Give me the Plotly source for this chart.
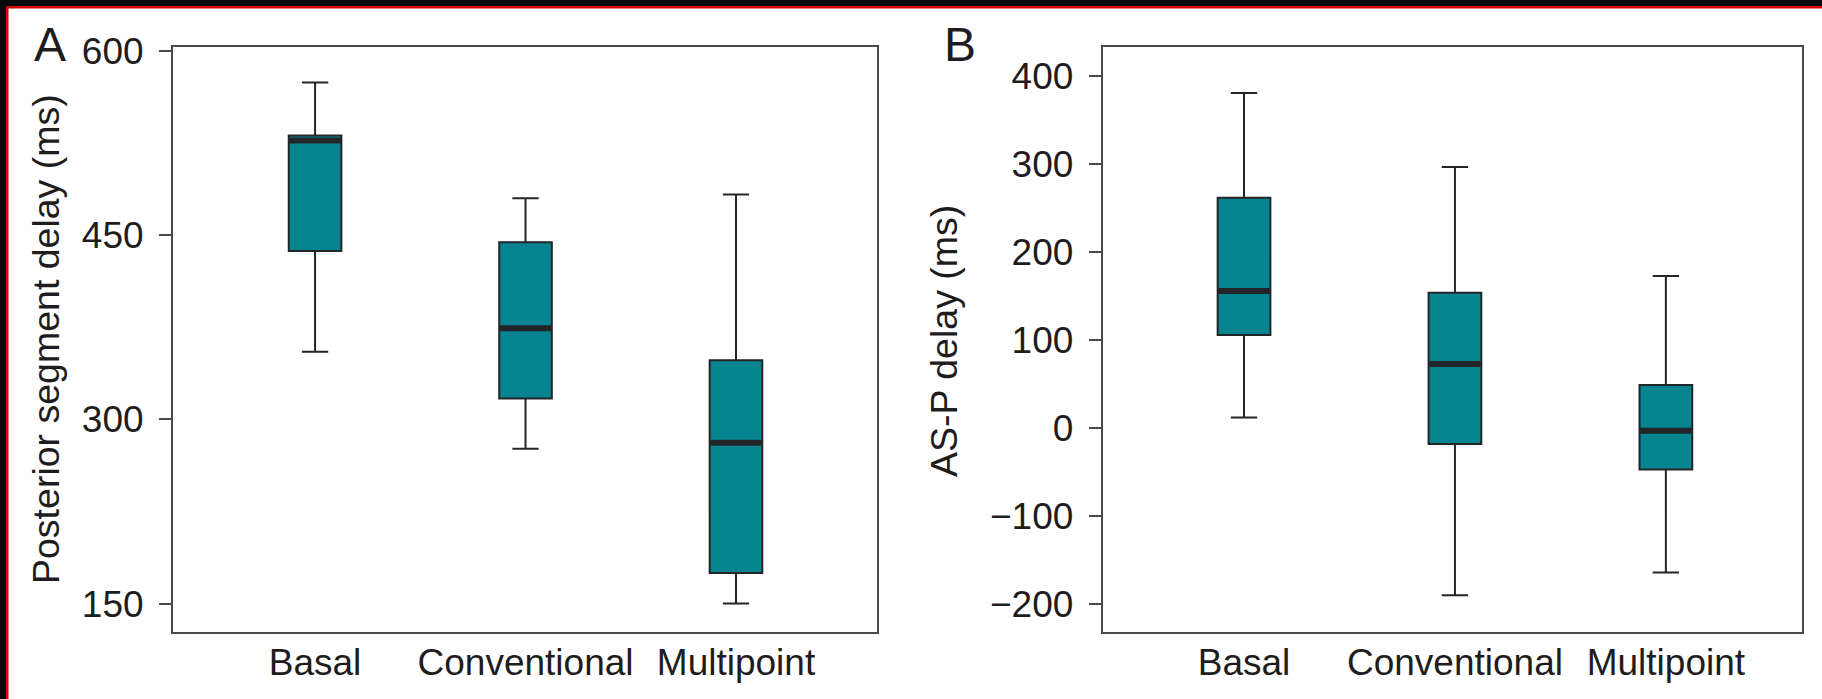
import plotly.graph_objects as go

# ---- data ----
categories = ["Basal", "Conventional", "Multipoint"]

# Panel A: Posterior segment delay (ms)
a_lower = [355, 276, 150]
a_q1 = [437, 317, 175]
a_median = [527, 374, 281]
a_q3 = [531, 444, 348]
a_upper = [574, 480, 483]

# Panel B: AS-P delay (ms)
b_lower = [12, -190, -164]
b_q1 = [106, -18, -47]
b_median = [156, 73, -3]
b_q3 = [262, 154, 49]
b_upper = [381, 297, 173]

a_ticks = [150, 300, 450, 600]
b_ticks = [-200, -100, 0, 100, 200, 300, 400]

# ---- style ----
W, H = 1822, 699
TEAL = "#06848f"
DARK = "#222629"
AXC = "#4a4a4a"
TXT = "#1f1c1d"
FONT = "Liberation Sans, Arial, Helvetica, sans-serif"
BOX_W = 0.25


def px_x(p):
    return p / W


def px_y(p):
    return (H - p) / H


fig = go.Figure()

for (xa, ya, lo, q1, md, q3, up) in [
    ("x", "y", a_lower, a_q1, a_median, a_q3, a_upper),
    ("x2", "y2", b_lower, b_q1, b_median, b_q3, b_upper),
]:
    fig.add_trace(go.Box(
        x=categories, q1=q1, median=md, q3=q3, lowerfence=lo, upperfence=up,
        xaxis=xa, yaxis=ya, width=BOX_W, whiskerwidth=0.5,
        fillcolor=TEAL, line=dict(color=DARK, width=2),
        boxpoints=False, showlegend=False, hoverinfo="skip",
    ))
    # thick median bar
    fig.add_trace(go.Scatter(
        x=categories, y=md, xaxis=xa, yaxis=ya, mode="markers",
        marker=dict(symbol="line-ew", size=37, color=DARK,
                    line=dict(color=DARK, width=6)),
        showlegend=False, hoverinfo="skip",
    ))

yb0, yb1 = px_y(631.5), px_y(46.5)

common_x = dict(
    type="category", showline=True, mirror=True, linecolor=AXC, linewidth=2,
    ticks="", showgrid=False, zeroline=False, automargin=False,
    ticklabelstandoff=-3,
    tickfont=dict(family=FONT, size=37, color=TXT),
)
common_y = dict(
    showline=True, mirror=True, linecolor=AXC, linewidth=2,
    ticks="outside", ticklen=12, tickwidth=2, tickcolor=AXC,
    showgrid=False, zeroline=False, automargin=False,
    ticklabelstandoff=8,
    tickfont=dict(family=FONT, size=37, color=TXT),
)

fig.update_layout(
    template="none",
    width=W, height=H,
    margin=dict(l=0, r=0, t=0, b=0, pad=0),
    paper_bgcolor="white", plot_bgcolor="white",
    xaxis=dict(domain=[px_x(173), px_x(877)], range=[-0.675, 2.67],
               anchor="y", **common_x),
    yaxis=dict(domain=[yb0, yb1], range=[127.3, 603.4], tickvals=a_ticks,
               anchor="x", **common_y),
    xaxis2=dict(domain=[px_x(1102.7), px_x(1801.5)], range=[-0.67, 2.643],
                anchor="y2", **common_x),
    yaxis2=dict(domain=[yb0, yb1], range=[-231.2, 433.9], tickvals=b_ticks,
                anchor="x2", **common_y),
    annotations=[
        dict(text="Posterior segment delay (ms)", xref="paper", yref="paper",
             x=px_x(46), y=px_y(339), textangle=-90, showarrow=False,
             xanchor="center", yanchor="middle",
             font=dict(family=FONT, size=37.5, color=TXT)),
        dict(text="AS-P delay (ms)", xref="paper", yref="paper",
             x=px_x(944), y=px_y(341), textangle=-90, showarrow=False,
             xanchor="center", yanchor="middle",
             font=dict(family=FONT, size=37.5, color=TXT)),
        dict(text="A", xref="paper", yref="paper",
             x=px_x(49.5), y=px_y(45), showarrow=False,
             xanchor="center", yanchor="middle",
             font=dict(family=FONT, size=48, color=TXT)),
        dict(text="B", xref="paper", yref="paper",
             x=px_x(960), y=px_y(45), showarrow=False,
             xanchor="center", yanchor="middle",
             font=dict(family=FONT, size=48, color=TXT)),
    ],
    shapes=[
        # dark frame with red inner line (top and left edges)
        dict(type="rect", xref="paper", yref="paper", x0=0, x1=1,
             y0=px_y(6), y1=1, fillcolor="#07080c", line=dict(width=0)),
        dict(type="rect", xref="paper", yref="paper", x0=0, x1=1,
             y0=px_y(8.5), y1=px_y(6), fillcolor="#d40000", line=dict(width=0)),
        dict(type="rect", xref="paper", yref="paper", x0=0, x1=px_x(6),
             y0=0, y1=1, fillcolor="#07080c", line=dict(width=0)),
        dict(type="rect", xref="paper", yref="paper", x0=px_x(6), x1=px_x(8.5),
             y0=0, y1=px_y(6), fillcolor="#d40000", line=dict(width=0)),
    ],
)

fig.write_html(
    "out.html",
    config={"displayModeBar": False},
    post_script="document.body.style.margin='0';document.body.style.overflow='hidden';",
)
